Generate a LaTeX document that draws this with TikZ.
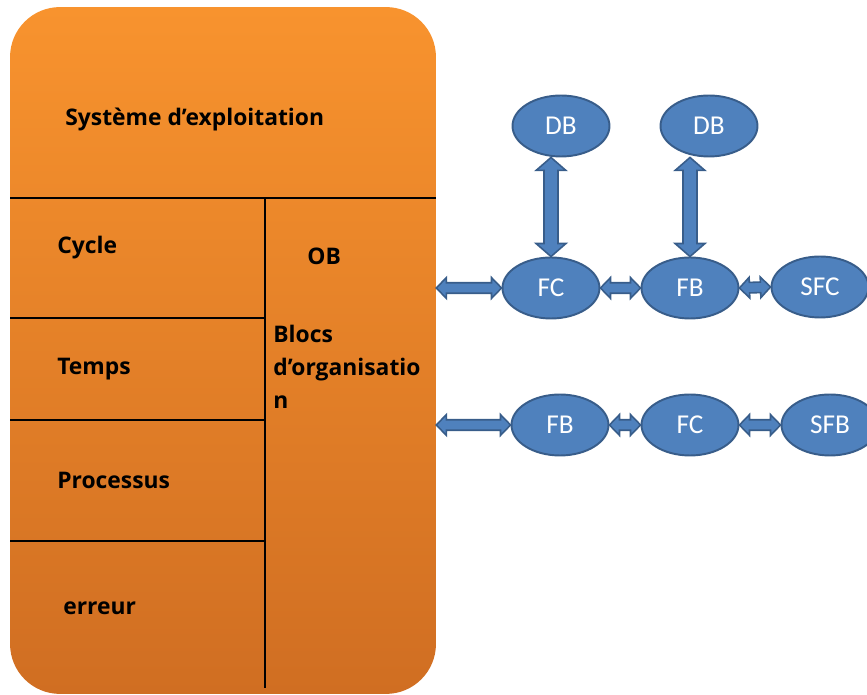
\documentclass[tikz,border=0pt]{standalone}
\usepackage{fontspec}
\usepackage{tikz}
\usetikzlibrary{shapes.geometric,calc}
\newfontfamily\osfont{Open Sans}
\newfontfamily\blkfont{Carlito}
\definecolor{ostop}{RGB}{248,147,46}
\definecolor{osbot}{RGB}{208,110,34}
\definecolor{blkfill}{RGB}{79,129,189}
\definecolor{blkline}{RGB}{56,93,138}
\tikzset{
	part line/.style={line width=1.4pt}
}
\tikzstyle{osbox}=[rectangle, rounded corners=1cm, top color=ostop, bottom color=osbot, minimum width=8.52cm, minimum height=13.74cm, inner sep=0]
\tikzstyle{oslabel}=[anchor=west, inner sep=0, font=\osfont\bfseries\fontsize{13}{18.7}\selectfont]
\tikzstyle{blk}=[ellipse, fill=blkfill, draw=blkline, line width=1.1pt, minimum width=1.94cm, minimum height=1.22cm, inner sep=0, text=white, font=\blkfont\fontsize{15.5}{17}\selectfont]
\tikzstyle{fatarr}=[fill=blkfill, draw=blkline, line width=0.9pt, line join=miter]
% fat double arrow: ends, head length, head half width, shaft half width
\newcommand{\fatarrow}[5]{
	\filldraw[fatarr] (#1) -- ($(#1)!#3!(#2)!#4!90:(#2)$) -- ($(#1)!#3!(#2)!#5!90:(#2)$)
		-- ($(#2)!#3!(#1)!#5!-90:(#1)$) -- ($(#2)!#3!(#1)!#4!-90:(#1)$) -- (#2)
		-- ($(#2)!#3!(#1)!#4!90:(#1)$) -- ($(#2)!#3!(#1)!#5!90:(#1)$)
		-- ($(#1)!#3!(#2)!#5!-90:(#2)$) -- ($(#1)!#3!(#2)!#4!-90:(#2)$) -- cycle;
}

\begin{document}
\begin{tikzpicture}[x=0.02cm, y=-0.02cm]
	\useasboundingbox (0,0) rectangle (867,695);
	% organisation block
	\node[osbox] (os) at (223,350.5) {};
	\draw[part line] (10,198) -- (436,198);
	\draw[part line] (265,198) -- (265,688);
	\draw[part line] (10,318) -- (265,318);
	\draw[part line] (10,420) -- (265,420);
	\draw[part line] (10,541) -- (265,541);
	\node[oslabel] (sys) at (65,120) {Système d’exploitation};
	\node[oslabel] (cyc) at (57,248) {Cycle};
	\node[oslabel] (tps) at (57,369) {Temps};
	\node[oslabel] (proc) at (57,480) {Processus};
	\node[oslabel] (err) at (63,608) {erreur};
	\node[oslabel] (ob) at (307,256) {OB};
	\node[oslabel, align=left] (blocs) at (273,367) {Blocs\\d’organisatio\\n};
	% blocks
	\node[blk] (db1) at (561,126) {DB};
	\node[blk] (db2) at (709,126) {DB};
	\node[blk] (fc1) at (551,288) {FC};
	\node[blk] (fb1) at (690,288) {FB};
	\node[blk] (sfc) at (820,287) {SFC};
	\node[blk] (fb2) at (560,425) {FB};
	\node[blk] (fc2) at (690,425) {FC};
	\node[blk] (sfb) at (830,425) {SFB};
	% links
	\coordinate (in1) at (os.east |- fc1.west);
	\coordinate (in2) at (os.east |- fb2.west);
	\coordinate (up1) at (fc1.north |- db1.south);
	\coordinate (up2) at (fb1.north |- db2.south);
	\fatarrow{in1}{fc1.west}{5.7pt}{5.9pt}{3pt}
	\fatarrow{fc1.east}{fb1.west}{5.7pt}{5.9pt}{3pt}
	\fatarrow{fb1.east}{sfc.west}{5.7pt}{5.9pt}{3pt}
	\fatarrow{in2}{fb2.west}{5.7pt}{5.9pt}{3pt}
	\fatarrow{fb2.east}{fc2.west}{5.7pt}{5.9pt}{3pt}
	\fatarrow{fc2.east}{sfb.west}{5.7pt}{5.9pt}{3pt}
	\fatarrow{fc1.north}{up1}{7.4pt}{8.5pt}{4pt}
	\fatarrow{fb1.north}{up2}{7.4pt}{8.5pt}{4pt}
\end{tikzpicture}
\end{document}
